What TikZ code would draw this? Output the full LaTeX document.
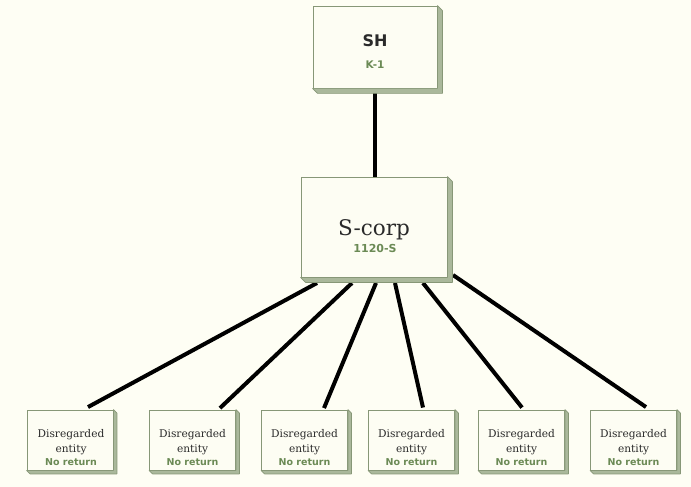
\documentclass[tikz,border=0pt]{standalone}
\usepackage{fontspec}
\setmainfont{DejaVu Serif}
\newfontfamily\sansb{DejaVu Sans}
\usetikzlibrary{calc}
\pgfdeclarelayer{bg}
\pgfsetlayers{bg,main}
\definecolor{bgc}{HTML}{FEFEF4}
\definecolor{facec}{HTML}{FDFDF3}
\definecolor{edgec}{HTML}{879777}
\definecolor{bevelc}{HTML}{AAB89B}
\definecolor{darktxt}{HTML}{2A2A2A}
\definecolor{greentxt}{HTML}{6B8A55}
\tikzset{
  box/.style={draw=edgec, fill=facec, line width=0.9pt, inner sep=0pt},
  bevelfill/.style={fill=bevelc, draw=edgec, line width=0.6pt, line join=round},
  link/.style={line width=4pt, draw=black},
  serif/.style={text=darktxt, inner sep=0pt, anchor=base},
  greenlbl/.style={text=greentxt, inner sep=0pt, anchor=base, font=\sansb\bfseries},
}
\begin{document}
\begin{tikzpicture}[x=1pt,y=-1pt]
\begin{pgfonlayer}{bg}
\fill[bgc] (0,0) rectangle (691,487);
\end{pgfonlayer}
\useasboundingbox (0,0) rectangle (691,487);

% boxes
\node[box, minimum width=124pt, minimum height=82pt] (sh) at (375,47) {};
\node[box, minimum width=146pt, minimum height=100pt] (sc) at (374,227) {};
\foreach \n/\x in {d1/70, d2/192.5, d3/304.5, d4/411.5, d5/521.5, d6/633.5}
  \node[box, minimum width=86pt, minimum height=60pt] (\n) at (\x,440) {};

% bevels
\foreach \n/\d in {sh/5, sc/5, d1/3.5, d2/3.5, d3/3.5, d4/3.5, d5/3.5, d6/3.5}
  \filldraw[bevelfill] (\n.north east) -- ([shift={(\d pt,-\d pt)}]\n.north east)
    -- ([shift={(\d pt,-\d pt)}]\n.south east) -- ([shift={(\d pt,-\d pt)}]\n.south west)
    -- (\n.south west) -- (\n.south east) -- cycle;

% texts
\node[font=\sansb\bfseries\fontsize{16}{18}\selectfont, text=darktxt, inner sep=0pt, anchor=base] (shname) at (375,47) {SH};
\node[greenlbl, font=\sansb\bfseries\fontsize{10.5}{12}\selectfont] (shform) at (375,69) {K-1};
\node[serif, font=\fontsize{21.5}{24}\selectfont] (scname) at (374,235) {S-corp};
\node[greenlbl, font=\sansb\bfseries\fontsize{11}{13}\selectfont] (scform) at (375,252) {1120-S};
\foreach \n/\x in {d1/71, d2/192.5, d3/304.5, d4/411.5, d5/521.5, d6/633.5}{
  \node[serif, font=\fontsize{10.6}{12}\selectfont] (\n a) at (\x,437) {Disregarded};
  \node[serif, font=\fontsize{10.6}{12}\selectfont] (\n b) at (\x,452) {entity};
  \node[greenlbl, font=\sansb\bfseries\fontsize{9.5}{11}\selectfont] (\n c) at (\x,465.5) {No return};
}

% connectors
\coordinate (s1) at (317,283);
\coordinate (s2) at (352,283);
\coordinate (s3) at (376,283);
\coordinate (s4) at (395,283);
\coordinate (s5) at (423,283);
\coordinate (s6) at (453,275);
\begin{pgfonlayer}{bg}
\draw[link] ([yshift=-4pt]sh.south) -- (sh.south |- sc.north);
\draw[link] (s1) -- ([shift={(18pt,2.5pt)}]d1.north);
\draw[link] (s2) -- ([shift={(27.5pt,1.5pt)}]d2.north);
\draw[link] (s3) -- ([shift={(19.5pt,1.5pt)}]d3.north);
\draw[link] (s4) -- ([shift={(11.5pt,2pt)}]d4.north);
\draw[link] (s5) -- ([shift={(0.5pt,2pt)}]d5.north);
\draw[link] (s6) -- ([shift={(12.5pt,2.5pt)}]d6.north);
\end{pgfonlayer}
\end{tikzpicture}
\end{document}
